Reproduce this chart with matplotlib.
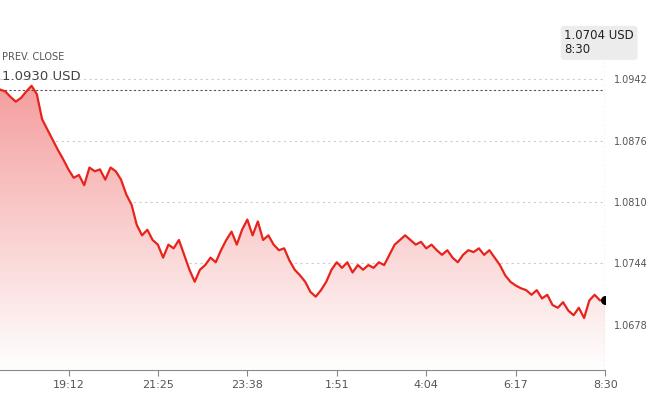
import numpy as np
import matplotlib.pyplot as plt
from matplotlib.patches import Polygon
from matplotlib.colors import LinearSegmentedColormap

prices = [1.0931,1.0929,1.0923,1.0918,1.0922,1.0929,1.0935,1.0926,1.0899,1.0888,1.0877,1.0866,1.0856,1.0845,1.0836,1.0839,1.0828,1.0847,1.0843,1.0845,1.0834,1.0847,1.0843,1.0834,1.0818,1.0807,1.0785,1.0774,1.0780,1.0769,1.0764,1.0750,1.0764,1.0760,1.0769,1.0753,1.0737,1.0724,1.0737,1.0742,1.0750,1.0745,1.0758,1.0769,1.0778,1.0764,1.0780,1.0791,1.0774,1.0789,1.0769,1.0774,1.0764,1.0758,1.0760,1.0747,1.0737,1.0731,1.0724,1.0713,1.0708,1.0715,1.0724,1.0737,1.0745,1.0739,1.0745,1.0734,1.0742,1.0737,1.0742,1.0739,1.0745,1.0742,1.0753,1.0764,1.0769,1.0774,1.0769,1.0764,1.0767,1.0760,1.0764,1.0758,1.0753,1.0758,1.0750,1.0745,1.0753,1.0758,1.0756,1.0760,1.0753,1.0758,1.0750,1.0742,1.0731,1.0724,1.0720,1.0717,1.0715,1.0710,1.0715,1.0706,1.0710,1.0699,1.0696,1.0702,1.0693,1.0688,1.0696,1.0685,1.0704,1.0710,1.0704,1.0704]
minutes = np.linspace(0, 900, len(prices))
tick_pos = [102, 235, 368, 501, 634, 767, 900]
tick_labels = ["19:12", "21:25", "23:38", "1:51", "4:04", "6:17", "8:30"]
grid_vals = [1.0942, 1.0876, 1.0810, 1.0744, 1.0678]
prev_close = 1.0930
last = 1.0704

fig = plt.figure(figsize=(6.5, 4.2), dpi=100)
ax = fig.add_axes([0, 0.119, 0.931, 0.774])
ymin, ymax = 1.0629, 1.0979
ax.set_xlim(0, 900)
ax.set_ylim(ymin, ymax)
for s in ["top", "right", "left"]:
    ax.spines[s].set_visible(False)
ax.spines["bottom"].set_color("#888888")

grad = np.linspace(0, 1, 256).reshape(-1, 1)
cmap = LinearSegmentedColormap.from_list("g", [(1, 1, 1, 1), (0.96, 0.62, 0.62, 1)])
im = ax.imshow(grad, extent=[0, 900, ymin, 1.0935], origin="lower", aspect="auto", cmap=cmap, zorder=1)
poly = Polygon(list(zip(minutes, prices)) + [(900, ymin), (0, ymin)], closed=True, transform=ax.transData)
im.set_clip_path(poly)

ax.plot(minutes, prices, color="#e8231b", lw=1.6, zorder=3)
ax.scatter([900], [last], color="black", s=30, zorder=4)

for g in grid_vals:
    ax.axhline(g, color="#cccccc", ls=(0, (2, 3)), lw=0.8, zorder=0)
ax.axhline(prev_close, color="#555555", ls=(0, (2, 2)), lw=0.8, zorder=2)
ax.axvline(900, color="#555555", ls=(0, (2, 2)), lw=0.8, zorder=2)

ax.set_xticks(tick_pos)
ax.set_xticklabels(tick_labels, color="#555555", fontsize=8)
ax.tick_params(axis="x", length=4, color="#888888")
ax.yaxis.tick_right()
ax.set_yticks(grid_vals)
ax.set_yticklabels([f"{v:.4f}" for v in grid_vals], color="#555555", fontsize=7)
ax.tick_params(axis="y", length=0, pad=6)

fig.text(0.003, 0.857, "PREV. CLOSE", fontsize=7, color="#555555")
fig.text(0.003, 0.81, "1.0930 USD", fontsize=9.5, color="#444444")
fig.text(0.868, 0.873, "1.0704 USD\n8:30", fontsize=8.5, color="#222222", linespacing=1.1,
         bbox=dict(boxstyle="round,pad=0.3", fc="#ececec", ec="none"))
fig.savefig("out.png", dpi=100)
